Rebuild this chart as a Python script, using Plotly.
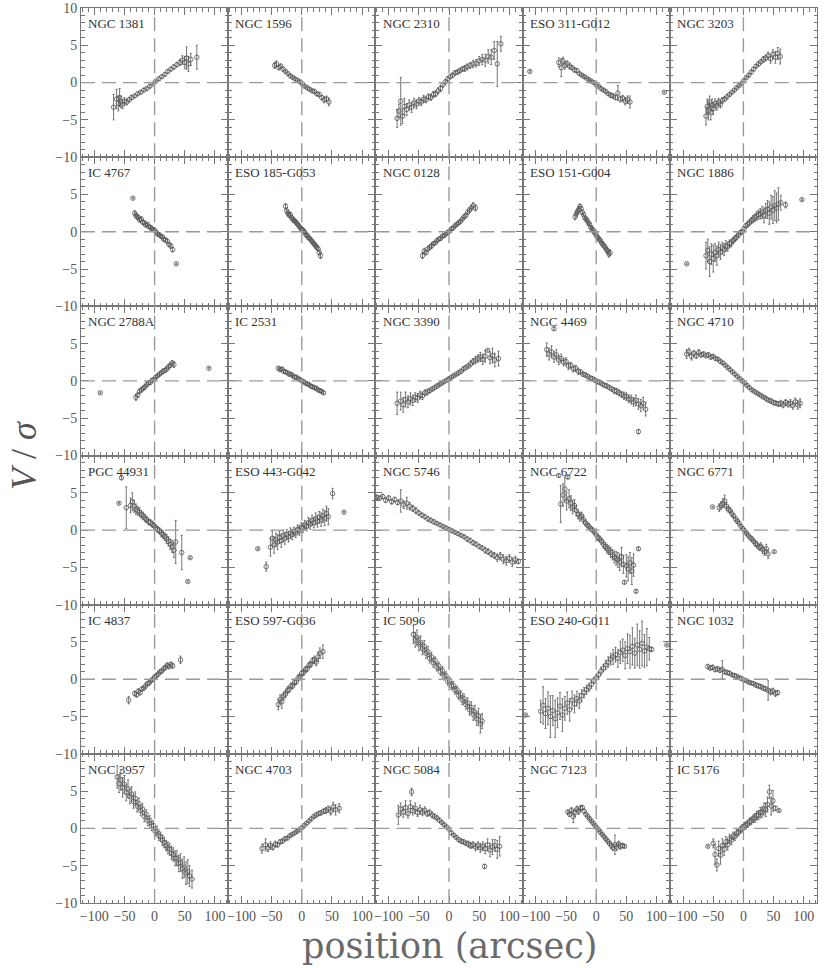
import plotly.graph_objects as go
from plotly.subplots import make_subplots

# V/sigma along the major axis for 30 galaxies
# each galaxy: position (arcsec), V/sigma, error on V/sigma

ngc1381_pos = [-68, -63, -60, -58, -56, -53, -50, -46, -42, -38,
               -33, -28, -23, -18, -13, -8, -3, 2, 7, 12,
               17, 22, 27, 32, 37, 42, 46, 50, 53, 56,
               60, 70]
ngc1381_v = [-3.3, -2.2, -2.8, -2.0, -2.6, -2.9, -2.5, -2.6, -2.3, -2.0,
             -1.8, -1.5, -1.3, -1.0, -0.8, -0.5, -0.2, 0.2, 0.5, 0.8,
             1.1, 1.5, 1.8, 2.1, 2.4, 2.7, 3.0, 2.7, 3.3, 2.5,
             3.1, 3.4]
ngc1381_err = [1.7, 1.3, 1.0, 1.2, 0.8, 0.6, 0.5, 0.4, 0.3, 0.3,
               0.2, 0.2, 0.2, 0.2, 0.2, 0.2, 0.1, 0.1, 0.2, 0.2,
               0.2, 0.2, 0.2, 0.3, 0.3, 0.4, 0.6, 0.8, 1.5, 1.0,
               0.8, 1.6]

ngc1596_pos = [-45, -42, -38, -35, -31, -27, -23, -19, -15, -11,
               -7, -3, 1, 5, 9, 13, 17, 21, 25, 29,
               33, 37, 41, 45]
ngc1596_v = [2.3, 2.5, 2.0, 2.2, 1.8, 1.5, 1.2, 0.9, 0.7, 0.5,
             0.3, 0.1, -0.2, -0.5, -0.7, -0.9, -1.1, -1.2, -1.5, -1.6,
             -2.0, -2.3, -2.2, -2.6]
ngc1596_err = [0.4, 0.4, 0.3, 0.3, 0.3, 0.2, 0.2, 0.2, 0.2, 0.2,
               0.2, 0.2, 0.2, 0.2, 0.2, 0.2, 0.2, 0.3, 0.3, 0.3,
               0.3, 0.4, 0.4, 0.5]

ngc2310_pos = [-86, -83, -80, -77, -74, -70, -66, -62, -58, -54,
               -50, -46, -42, -38, -34, -30, -26, -22, -18, -14,
               -10, -6, -2, 2, 6, 10, 14, 18, 22, 26,
               30, 35, 40, 45, 50, 55, 60, 65, 70, 75,
               80, 86]
ngc2310_v = [-4.8, -3.8, -2.5, -4.5, -3.2, -3.6, -3.0, -3.3, -2.7, -2.9,
             -2.5, -2.6, -2.2, -2.3, -1.9, -2.0, -1.6, -1.5, -1.1, -0.8,
             -0.3, 0.1, 0.5, 0.8, 1.0, 1.3, 1.4, 1.6, 1.8, 1.9,
             2.1, 2.3, 2.5, 2.6, 2.9, 3.1, 3.0, 3.5, 3.4, 4.3,
             2.5, 5.2]
ngc2310_err = [1.2, 0.9, 3.2, 1.0, 1.1, 0.8, 0.7, 0.7, 0.6, 0.6,
               0.5, 0.5, 0.5, 0.4, 0.4, 0.4, 0.4, 0.4, 0.4, 0.4,
               0.3, 0.3, 0.3, 0.3, 0.3, 0.3, 0.3, 0.3, 0.3, 0.4,
               0.4, 0.4, 0.5, 0.5, 0.6, 0.7, 0.8, 0.9, 1.0, 1.2,
               3.0, 1.0]

eso311_pos = [-110, -62, -58, -55, -52, -48, -44, -40, -36, -32,
              -28, -24, -20, -16, -12, -8, -4, 0, 4, 8,
              12, 16, 20, 24, 28, 32, 36, 40, 44, 48,
              52, 56, 113]
eso311_v = [1.5, 2.7, 2.0, 2.9, 2.3, 2.5, 2.2, 2.0, 1.7, 1.6,
            1.2, 1.0, 0.8, 0.6, 0.4, 0.2, 0.0, -0.3, -0.5, -0.8,
            -1.0, -1.2, -1.5, -1.7, -1.8, -2.0, -1.4, -2.2, -2.1, -2.5,
            -2.3, -2.6, -1.3]
eso311_err = [0.1, 0.6, 1.2, 0.5, 0.5, 0.4, 0.4, 0.3, 0.3, 0.3,
              0.2, 0.2, 0.2, 0.1, 0.1, 0.1, 0.1, 0.1, 0.1, 0.2,
              0.2, 0.2, 0.2, 0.3, 0.3, 0.3, 1.0, 0.4, 0.4, 0.5,
              0.5, 0.8, 0.1]

ngc3203_pos = [-62, -60, -58, -56, -54, -52, -50, -47, -44, -41,
               -38, -35, -31, -27, -23, -19, -15, -11, -7, -3,
               1, 5, 9, 13, 17, 21, 25, 29, 33, 37,
               41, 45, 49, 53, 57, 61]
ngc3203_v = [-4.5, -3.2, -3.8, -2.6, -4.0, -3.0, -3.5, -2.8, -3.1, -2.6,
             -2.9, -2.4, -2.2, -1.9, -1.6, -1.3, -1.0, -0.7, -0.4, -0.1,
             0.3, 0.7, 1.0, 1.4, 1.8, 2.2, 2.5, 2.8, 3.1, 3.3,
             3.6, 3.2, 3.8, 3.4, 3.9, 3.5]
ngc3203_err = [1.2, 1.0, 1.2, 0.8, 1.0, 0.8, 0.8, 0.6, 0.6, 0.5,
               0.5, 0.4, 0.3, 0.3, 0.2, 0.2, 0.2, 0.2, 0.1, 0.1,
               0.1, 0.1, 0.2, 0.2, 0.2, 0.2, 0.3, 0.3, 0.4, 0.4,
               0.5, 0.6, 0.6, 0.8, 0.8, 1.0]

ic4767_pos = [-36, -33, -31, -29, -27, -25, -22, -20, -17, -15,
              -12, -10, -7, -5, -2, 0, 3, 5, 8, 10,
              13, 15, 18, 21, 24, 27, 30, 36]
ic4767_v = [4.5, 2.5, 2.2, 2.0, 1.9, 1.6, 1.7, 1.3, 1.2, 0.9,
            1.0, 0.7, 0.6, 0.4, 0.3, 0.2, -0.1, -0.3, -0.4, -0.6,
            -0.7, -1.0, -1.1, -1.3, -1.7, -1.9, -2.4, -4.3]
ic4767_err = [0.1, 0.3, 0.3, 0.3, 0.3, 0.3, 0.3, 0.3, 0.2, 0.2,
              0.2, 0.2, 0.2, 0.2, 0.2, 0.2, 0.2, 0.2, 0.2, 0.2,
              0.2, 0.2, 0.3, 0.3, 0.3, 0.3, 0.3, 0.1]

eso185_pos = [-27, -25, -23, -21, -19, -17, -15, -13, -11, -9,
              -7, -5, -3, -1, 1, 3, 5, 7, 9, 11,
              13, 15, 17, 19, 21, 23, 25, 27, 29, 31]
eso185_v = [3.4, 2.8, 2.5, 2.2, 2.3, 1.9, 1.7, 1.5, 1.4, 1.2,
            1.0, 0.8, 0.6, 0.4, 0.3, 0.1, -0.1, -0.4, -0.5, -0.8,
            -0.9, -1.1, -1.3, -1.5, -1.7, -1.9, -2.1, -2.3, -2.8, -3.2]
eso185_err = [0.4, 0.4, 0.3, 0.3, 0.3, 0.3, 0.2, 0.2, 0.2, 0.2,
              0.2, 0.2, 0.2, 0.2, 0.2, 0.2, 0.2, 0.2, 0.2, 0.2,
              0.2, 0.2, 0.2, 0.2, 0.3, 0.3, 0.3, 0.3, 0.3, 0.4]

ngc0128_pos = [-44, -41, -38, -35, -32, -29, -26, -23, -20, -17,
               -14, -11, -8, -5, -2, 1, 4, 7, 10, 13,
               16, 19, 22, 25, 28, 31, 34, 37, 40, 44]
ngc0128_v = [-3.2, -2.6, -2.8, -2.3, -2.1, -1.9, -1.6, -1.5, -1.2, -1.0,
             -0.9, -0.6, -0.5, -0.3, -0.1, 0.1, 0.4, 0.5, 0.8, 1.0,
             1.2, 1.4, 1.7, 2.0, 2.2, 2.6, 2.9, 3.2, 3.5, 3.2]
ngc0128_err = [0.4, 0.4, 0.3, 0.3, 0.3, 0.3, 0.2, 0.2, 0.2, 0.2,
               0.2, 0.2, 0.2, 0.2, 0.2, 0.2, 0.2, 0.2, 0.2, 0.2,
               0.2, 0.2, 0.2, 0.3, 0.3, 0.3, 0.3, 0.3, 0.4, 0.4]

eso151_pos = [-35, -33, -31, -29, -27, -25, -23, -21, -19, -17,
              -15, -13, -11, -9, -7, -5, -3, -1, 1, 3,
              5, 7, 9, 11, 13, 15, 17, 19, 21, 23]
eso151_v = [2.0, 2.4, 2.7, 3.0, 3.4, 3.1, 2.6, 2.3, 1.9, 1.7,
            1.5, 1.2, 1.0, 0.6, 0.4, 0.2, -0.1, -0.3, -0.6, -0.8,
            -1.0, -1.2, -1.5, -1.7, -1.9, -2.1, -2.4, -2.6, -3.0, -2.8]
eso151_err = [0.4, 0.4, 0.4, 0.4, 0.3, 0.3, 0.3, 0.2, 0.2, 0.2,
              0.2, 0.2, 0.2, 0.2, 0.2, 0.2, 0.2, 0.2, 0.2, 0.2,
              0.2, 0.2, 0.2, 0.3, 0.3, 0.3, 0.3, 0.4, 0.4, 0.4]

ngc1886_pos = [-94, -62, -59, -56, -53, -50, -47, -44, -41, -38,
               -35, -32, -29, -26, -23, -20, -17, -14, -11, -8,
               -5, -2, 1, 4, 7, 10, 13, 16, 19, 22,
               25, 28, 31, 34, 37, 40, 43, 46, 49, 52,
               55, 58, 62, 70, 97]
ngc1886_v = [-4.3, -3.2, -2.5, -4.0, -3.0, -3.6, -2.8, -3.2, -2.4, -2.7,
             -2.2, -2.4, -1.9, -2.0, -1.6, -1.5, -1.2, -0.9, -0.7, -0.4,
             -0.1, 0.0, 0.4, 0.8, 1.0, 1.2, 1.5, 1.7, 1.9, 2.1,
             2.3, 2.4, 2.6, 2.2, 2.8, 3.0, 2.5, 3.3, 2.9, 3.5,
             3.2, 3.7, 3.9, 3.6, 4.3]
ngc1886_err = [0.1, 1.8, 1.5, 2.0, 1.4, 1.8, 1.2, 1.3, 1.0, 1.0,
               0.8, 0.8, 0.7, 0.6, 0.5, 0.5, 0.4, 0.4, 0.4, 0.3,
               0.3, 0.3, 0.3, 0.3, 0.4, 0.4, 0.4, 0.5, 0.5, 0.6,
               0.6, 0.7, 0.8, 1.0, 1.0, 1.2, 1.5, 1.6, 1.8, 2.0,
               2.0, 2.2, 1.0, 0.4, 0.1]

ngc2788a_pos = [-90, -31, -28, -25, -22, -19, -16, -13, -10, -7,
                -4, -1, 2, 5, 8, 11, 14, 17, 20, 23,
                26, 29, 32, 90]
ngc2788a_v = [-1.6, -2.2, -1.9, -1.4, -1.2, -1.0, -0.8, -0.5, -0.3, -0.2,
              0.1, 0.2, 0.5, 0.7, 0.9, 1.1, 1.3, 1.4, 1.6, 1.9,
              2.1, 2.4, 2.2, 1.7]
ngc2788a_err = [0.1, 0.4, 0.3, 0.3, 0.3, 0.3, 0.3, 0.3, 0.2, 0.2,
                0.2, 0.2, 0.2, 0.2, 0.2, 0.2, 0.3, 0.3, 0.3, 0.3,
                0.3, 0.3, 0.4, 0.1]

ic2531_pos = [-39, -36, -33, -30, -27, -24, -21, -18, -15, -12,
              -9, -6, -3, 0, 3, 6, 9, 12, 15, 18,
              21, 24, 27, 30, 33, 36]
ic2531_v = [1.7, 1.5, 1.6, 1.3, 1.2, 1.1, 0.9, 0.9, 0.7, 0.5,
            0.5, 0.3, 0.2, 0.0, -0.1, -0.3, -0.4, -0.5, -0.7, -0.8,
            -0.9, -1.0, -1.2, -1.3, -1.4, -1.6]
ic2531_err = [0.2, 0.2, 0.2, 0.2, 0.2, 0.2, 0.2, 0.2, 0.2, 0.2,
              0.2, 0.2, 0.2, 0.2, 0.2, 0.2, 0.2, 0.2, 0.2, 0.2,
              0.2, 0.2, 0.2, 0.2, 0.2, 0.2]

ngc3390_pos = [-86, -80, -76, -72, -68, -64, -60, -56, -52, -48,
               -44, -40, -36, -32, -28, -24, -20, -16, -12, -8,
               -4, 0, 4, 8, 12, 16, 20, 24, 28, 32,
               36, 40, 44, 48, 52, 56, 60, 64, 68, 72,
               76, 82]
ngc3390_v = [-3.0, -2.7, -3.2, -2.5, -2.8, -2.4, -2.6, -2.2, -2.3, -1.9,
             -2.0, -1.6, -1.5, -1.3, -1.1, -0.9, -0.7, -0.5, -0.3, -0.1,
             0.1, 0.3, 0.5, 0.7, 0.9, 1.1, 1.3, 1.6, 1.8, 2.0,
             2.3, 2.6, 2.8, 3.0, 3.2, 2.9, 3.3, 4.1, 3.1, 3.4,
             2.8, 3.0]
ngc3390_err = [1.5, 1.2, 1.0, 1.0, 0.8, 0.8, 0.7, 0.6, 0.6, 0.5,
               0.5, 0.4, 0.4, 0.3, 0.3, 0.3, 0.3, 0.2, 0.2, 0.2,
               0.2, 0.2, 0.2, 0.2, 0.2, 0.3, 0.3, 0.3, 0.3, 0.3,
               0.4, 0.4, 0.5, 0.5, 0.6, 0.7, 0.8, 0.1, 0.8, 1.0,
               0.9, 1.0]

ngc4469_pos = [-82, -78, -74, -70, -66, -62, -58, -54, -50, -46,
               -42, -38, -34, -30, -26, -22, -18, -14, -10, -6,
               -2, 2, 6, 10, 14, 18, 22, 26, 30, 34,
               38, 42, 46, 50, 54, 58, 62, 66, 70, 74,
               78, 82, -70, 70]
ngc4469_v = [4.2, 3.6, 3.9, 3.2, 3.5, 2.8, 3.0, 2.5, 2.6, 2.0,
             2.1, 1.6, 1.7, 1.3, 1.2, 0.9, 0.8, 0.6, 0.4, 0.3,
             0.1, -0.1, -0.2, -0.4, -0.6, -0.7, -0.9, -1.1, -1.3, -1.4,
             -1.6, -1.8, -2.0, -2.1, -2.4, -2.5, -2.8, -2.6, -3.1, -3.3,
             -3.0, -3.8, 7.0, -6.8]
ngc4469_err = [0.9, 0.8, 0.8, 0.7, 0.7, 0.6, 0.6, 0.5, 0.5, 0.5,
               0.4, 0.4, 0.4, 0.4, 0.3, 0.3, 0.3, 0.3, 0.3, 0.3,
               0.3, 0.3, 0.3, 0.3, 0.3, 0.3, 0.3, 0.3, 0.4, 0.4,
               0.4, 0.4, 0.5, 0.5, 0.5, 0.6, 0.6, 0.7, 0.7, 0.8,
               0.8, 0.9, 0.2, 0.3]

ngc4710_pos = [-94, -90, -86, -82, -78, -74, -70, -66, -62, -58,
               -54, -50, -46, -42, -38, -34, -30, -26, -22, -18,
               -14, -10, -6, -2, 2, 6, 10, 14, 18, 22,
               26, 30, 34, 38, 42, 46, 50, 54, 58, 62,
               66, 70, 74, 78, 82, 86, 90, 94]
ngc4710_v = [3.6, 3.9, 3.3, 3.7, 3.4, 3.8, 3.5, 3.6, 3.4, 3.5,
             3.2, 3.3, 3.0, 2.9, 2.6, 2.4, 2.1, 1.8, 1.5, 1.2,
             0.9, 0.6, 0.3, 0.0, -0.3, -0.6, -0.9, -1.2, -1.4, -1.6,
             -1.8, -2.0, -2.2, -2.4, -2.6, -2.7, -2.9, -3.0, -3.1, -3.0,
             -3.2, -2.9, -3.1, -3.0, -3.3, -2.8, -3.2, -3.0]
ngc4710_err = [0.6, 0.5, 0.5, 0.4, 0.4, 0.4, 0.3, 0.3, 0.3, 0.3,
               0.3, 0.2, 0.2, 0.2, 0.2, 0.2, 0.2, 0.2, 0.2, 0.2,
               0.2, 0.2, 0.2, 0.2, 0.2, 0.2, 0.2, 0.2, 0.2, 0.2,
               0.2, 0.2, 0.2, 0.3, 0.3, 0.3, 0.3, 0.3, 0.3, 0.4,
               0.4, 0.4, 0.4, 0.5, 0.5, 0.5, 0.6, 0.6]

pgc44931_pos = [-59, -55, -47, -40, -37, -34, -31, -28, -25, -22,
                -19, -16, -13, -10, -7, -4, -1, 2, 5, 8,
                11, 14, 17, 20, 23, 26, 29, 32, 35, 45,
                55, 59]
pgc44931_v = [3.6, 7.0, 3.0, 3.3, 3.8, 3.2, 2.8, 2.6, 2.4, 2.1,
              1.9, 1.6, 1.4, 1.1, 1.0, 0.8, 0.6, 0.3, 0.1, -0.1,
              -0.4, -0.6, -0.9, -1.2, -1.5, -1.9, -2.2, -2.7, -1.6, -3.0,
              -6.9, -3.7]
pgc44931_err = [0.1, 0.2, 2.8, 1.0, 1.2, 0.8, 0.7, 0.6, 0.6, 0.5,
                0.5, 0.5, 0.4, 0.4, 0.4, 0.4, 0.4, 0.4, 0.4, 0.4,
                0.5, 0.5, 0.5, 0.6, 0.6, 0.7, 0.8, 1.0, 2.9, 2.3,
                0.1, 0.1]

eso443_pos = [-73, -59, -52, -49, -46, -43, -40, -37, -34, -31,
              -28, -25, -22, -19, -16, -13, -10, -7, -4, -1,
              2, 5, 8, 11, 14, 17, 20, 23, 26, 29,
              32, 35, 38, 41, 44, 51, 70]
eso443_v = [-2.5, -4.9, -2.3, -1.1, -2.0, -1.3, -1.6, -1.0, -1.4, -0.8,
            -1.1, -0.6, -0.9, -0.4, -0.6, -0.2, -0.4, 0.1, -0.1, 0.4,
            0.3, 0.7, 0.5, 1.0, 0.8, 1.3, 1.0, 1.5, 1.2, 1.7,
            1.4, 1.9, 1.6, 2.2, 1.8, 4.9, 2.4]
eso443_err = [0.1, 0.6, 1.2, 1.0, 1.1, 0.9, 1.0, 0.8, 0.9, 0.8,
              0.8, 0.7, 0.7, 0.7, 0.7, 0.6, 0.6, 0.6, 0.6, 0.6,
              0.6, 0.6, 0.6, 0.7, 0.7, 0.7, 0.7, 0.8, 0.8, 0.8,
              0.9, 0.9, 1.0, 1.0, 1.1, 0.7, 0.1]

ngc5746_pos = [-120, -115, -110, -105, -100, -95, -90, -85, -80, -75,
               -70, -65, -60, -55, -50, -45, -40, -35, -30, -25,
               -20, -15, -10, -5, 0, 5, 10, 15, 20, 25,
               30, 35, 40, 45, 50, 55, 60, 65, 70, 75,
               80, 85, 90, 95, 100, 105, 110, 115]
ngc5746_v = [4.4, 4.3, 4.5, 4.0, 4.3, 3.8, 4.1, 3.7, 3.9, 3.4,
             3.6, 3.2, 2.9, 2.6, 2.3, 2.0, 1.8, 1.5, 1.3, 1.1,
             0.9, 0.7, 0.5, 0.3, 0.1, -0.1, -0.3, -0.5, -0.7, -0.9,
             -1.2, -1.4, -1.7, -1.9, -2.2, -2.4, -2.7, -2.9, -3.2, -3.4,
             -3.7, -3.5, -3.9, -4.1, -3.8, -4.3, -4.0, -4.2]
ngc5746_err = [0.3, 0.3, 0.3, 0.3, 0.3, 0.3, 0.3, 0.3, 1.5, 0.5,
               0.8, 0.5, 0.4, 0.4, 0.3, 0.3, 0.3, 0.3, 0.3, 0.3,
               0.2, 0.2, 0.2, 0.2, 0.2, 0.2, 0.2, 0.2, 0.2, 0.2,
               0.3, 0.3, 0.3, 0.3, 0.3, 0.3, 0.4, 0.4, 0.4, 0.4,
               0.5, 0.5, 0.6, 0.6, 0.5, 0.6, 0.5, 0.3]

ngc6722_pos = [-62, -59, -55, -52, -49, -47, -45, -42, -39, -36,
               -33, -30, -27, -24, -21, -18, -15, -12, -9, -6,
               -3, 0, 3, 6, 9, 12, 15, 18, 21, 24,
               27, 30, 33, 36, 39, 42, 45, 47, 50, 53,
               56, 59, 62, 66, 70]
ngc6722_v = [7.3, 3.5, 4.7, 5.5, 3.9, 7.1, 4.2, 3.6, 3.1, 3.3,
             2.6, 2.1, 1.8, 1.9, 1.4, 1.0, 0.7, 0.5, 0.2, 0.0,
             -0.3, -0.6, -1.0, -1.2, -1.5, -1.9, -2.2, -2.5, -2.7, -3.0,
             -3.3, -3.6, -3.8, -4.0, -4.3, -3.6, -4.6, -7.0, -4.8, -5.2,
             -4.4, -5.5, -4.7, -8.2, -2.5]
ngc6722_err = [0.2, 2.5, 1.5, 1.6, 1.2, 0.2, 1.2, 1.0, 0.9, 0.8,
               0.7, 0.6, 0.6, 0.5, 0.5, 0.4, 0.4, 0.4, 0.3, 0.3,
               0.3, 0.3, 0.4, 0.4, 0.4, 0.5, 0.5, 0.6, 0.6, 0.7,
               0.7, 0.8, 0.9, 1.0, 1.1, 1.3, 1.2, 0.2, 1.5, 1.6,
               1.4, 1.8, 1.5, 0.2, 0.2]

ngc6771_pos = [-51, -40, -37, -34, -31, -28, -25, -22, -19, -16,
               -13, -10, -7, -4, -1, 2, 5, 8, 11, 14,
               17, 20, 23, 26, 29, 32, 35, 38, 41, 51]
ngc6771_v = [3.1, 3.0, 3.3, 3.6, 3.9, 3.2, 2.8, 2.6, 2.2, 1.9,
             1.5, 1.2, 0.9, 0.5, 0.2, -0.1, -0.4, -0.7, -1.0, -1.2,
             -1.5, -1.8, -2.0, -2.3, -2.2, -2.6, -2.9, -2.5, -3.2, -2.9]
ngc6771_err = [0.1, 0.5, 0.5, 0.6, 0.8, 0.5, 0.4, 0.4, 0.4, 0.3,
               0.3, 0.3, 0.3, 0.3, 0.3, 0.3, 0.3, 0.3, 0.3, 0.3,
               0.3, 0.4, 0.4, 0.4, 0.5, 0.5, 0.5, 0.6, 0.6, 0.1]

ic4837_pos = [-43, -33, -30, -27, -24, -21, -18, -15, -12, -9,
              -6, -3, 0, 3, 6, 9, 12, 15, 18, 21,
              24, 27, 30, 43]
ic4837_v = [-2.8, -1.9, -2.1, -1.6, -1.8, -1.3, -1.2, -0.9, -0.6, -0.5,
            -0.2, 0.0, 0.3, 0.5, 0.7, 1.0, 1.1, 1.4, 1.6, 1.9,
            1.7, 2.0, 1.8, 2.6]
ic4837_err = [0.5, 0.3, 0.3, 0.3, 0.3, 0.3, 0.3, 0.3, 0.3, 0.3,
              0.3, 0.3, 0.3, 0.3, 0.3, 0.3, 0.3, 0.3, 0.3, 0.3,
              0.3, 0.3, 0.3, 0.5]

eso597_pos = [-39, -36, -33, -30, -27, -24, -21, -18, -15, -12,
              -9, -6, -3, 0, 3, 6, 9, 12, 15, 18,
              21, 24, 27, 30, 35]
eso597_v = [-3.4, -2.7, -3.0, -2.2, -2.0, -1.5, -1.4, -0.9, -0.9, -0.4,
            -0.3, 0.2, 0.3, 0.8, 0.9, 1.3, 1.4, 1.9, 2.0, 2.5,
            2.6, 2.3, 3.0, 3.5, 3.7]
eso597_err = [0.7, 0.6, 0.9, 0.5, 0.5, 0.5, 0.4, 0.4, 0.4, 0.4,
              0.4, 0.4, 0.4, 0.4, 0.4, 0.4, 0.4, 0.4, 0.4, 0.4,
              0.5, 0.5, 0.6, 0.7, 0.9]

ic5096_pos = [-59, -56, -53, -50, -47, -44, -41, -38, -35, -32,
              -29, -26, -23, -20, -17, -14, -11, -8, -5, -2,
              1, 4, 7, 10, 13, 16, 19, 22, 25, 28,
              31, 34, 37, 40, 43, 46, 49, 52, 55]
ic5096_v = [6.0, 5.3, 5.6, 4.7, 4.9, 4.1, 4.4, 3.5, 3.7, 2.8,
            3.0, 2.2, 2.5, 1.6, 1.8, 1.0, 1.2, 0.4, 0.5, -0.3,
            -0.2, -0.9, -0.8, -1.5, -1.4, -2.2, -2.0, -2.8, -2.6, -3.4,
            -3.2, -4.1, -3.8, -4.7, -4.4, -5.3, -4.9, -6.0, -5.6]
ic5096_err = [1.2, 1.0, 1.0, 0.9, 0.9, 0.8, 0.8, 0.7, 0.7, 0.6,
              0.6, 0.6, 0.5, 0.5, 0.5, 0.5, 0.5, 0.5, 0.5, 0.5,
              0.5, 0.5, 0.5, 0.5, 0.5, 0.5, 0.5, 0.6, 0.6, 0.6,
              0.7, 0.7, 0.8, 0.8, 0.9, 0.9, 1.0, 1.2, 1.0]

eso240_pos = [-117, -92, -88, -84, -80, -76, -72, -68, -64, -60,
              -56, -52, -48, -44, -40, -36, -32, -28, -24, -20,
              -16, -12, -8, -4, 0, 4, 8, 12, 16, 20,
              24, 28, 32, 36, 40, 44, 48, 52, 56, 60,
              64, 68, 72, 76, 80, 84, 88, 92, 117]
eso240_v = [-4.8, -4.3, -3.5, -4.6, -3.9, -5.0, -4.2, -5.3, -4.5, -3.6,
            -4.8, -3.9, -3.2, -4.1, -2.8, -3.3, -2.6, -2.9, -2.2, -1.8,
            -1.4, -1.1, -0.7, -0.2, 0.2, 0.6, 1.1, 1.5, 1.9, 2.3,
            2.7, 3.0, 3.3, 2.8, 3.6, 3.9, 3.2, 4.1, 3.7, 4.4,
            3.5, 4.6, 4.0, 4.8, 3.8, 4.3, 4.1, 4.0, 4.6]
eso240_err = [0.1, 1.5, 2.5, 2.0, 2.2, 2.8, 2.0, 2.5, 2.0, 1.8,
              2.2, 1.6, 1.5, 1.5, 1.2, 1.2, 1.0, 1.0, 0.8, 0.7,
              0.6, 0.5, 0.5, 0.4, 0.4, 0.4, 0.5, 0.5, 0.6, 0.7,
              0.8, 1.0, 1.0, 1.2, 1.5, 1.5, 1.8, 2.0, 2.2, 2.5,
              2.0, 2.8, 2.5, 3.0, 2.2, 2.5, 1.5, 0.3, 0.1]

ngc1032_pos = [-59, -55, -51, -47, -43, -39, -35, -31, -27, -23,
               -19, -15, -11, -7, -3, 1, 5, 9, 13, 17,
               21, 25, 29, 33, 37, 41, 45, 49, 53, 57]
ngc1032_v = [1.7, 1.5, 1.6, 1.3, 1.4, 1.2, 1.3, 1.0, 0.9, 0.8,
             0.6, 0.5, 0.4, 0.2, 0.1, -0.1, -0.2, -0.4, -0.5, -0.6,
             -0.8, -0.9, -1.0, -1.2, -1.3, -1.5, -1.7, -1.6, -1.9, -1.8]
ngc1032_err = [0.3, 0.3, 0.3, 0.3, 0.3, 0.3, 1.2, 0.3, 0.3, 0.3,
               0.2, 0.2, 0.2, 0.2, 0.2, 0.2, 0.2, 0.2, 0.2, 0.2,
               0.3, 0.3, 0.3, 0.3, 0.3, 1.3, 0.4, 0.4, 0.4, 0.3]

ngc3957_pos = [-62, -59, -56, -53, -50, -47, -44, -41, -38, -35,
               -32, -29, -26, -23, -20, -17, -14, -11, -8, -5,
               -2, 1, 4, 7, 10, 13, 16, 19, 22, 25,
               28, 31, 34, 37, 40, 43, 46, 49, 52, 55,
               58, 62]
ngc3957_v = [6.9, 6.0, 6.5, 5.5, 5.9, 4.8, 5.3, 4.3, 4.6, 3.6,
             4.0, 3.0, 3.3, 2.4, 2.6, 1.6, 1.9, 1.0, 1.1, 0.3,
             0.4, -0.4, -0.3, -1.0, -1.1, -1.6, -1.9, -2.3, -2.6, -2.8,
             -3.3, -3.5, -4.0, -4.0, -4.7, -4.6, -5.4, -5.2, -6.0, -5.8,
             -6.4, -6.8]
ngc3957_err = [1.5, 1.2, 1.4, 1.3, 1.2, 1.1, 1.2, 1.0, 1.0, 0.9,
               0.9, 0.8, 0.8, 0.7, 0.7, 0.7, 0.6, 0.6, 0.6, 0.6,
               0.6, 0.6, 0.6, 0.6, 0.6, 0.7, 0.7, 0.7, 0.8, 0.8,
               0.9, 0.9, 1.0, 1.0, 1.1, 1.2, 1.3, 1.4, 1.5, 1.6,
               1.4, 1.2]

ngc4703_pos = [-66, -60, -56, -52, -48, -44, -40, -36, -32, -28,
               -24, -20, -16, -12, -8, -4, 0, 4, 8, 12,
               16, 20, 24, 28, 32, 36, 40, 44, 48, 52,
               56, 62]
ngc4703_v = [-2.7, -2.2, -2.6, -2.3, -2.5, -2.1, -2.2, -1.8, -1.7, -1.4,
             -1.3, -1.0, -0.8, -0.6, -0.4, -0.2, 0.1, 0.4, 0.7, 1.0,
             1.3, 1.6, 1.8, 2.0, 2.1, 2.3, 2.4, 2.6, 2.3, 2.9,
             2.5, 2.7]
ngc4703_err = [0.6, 0.8, 0.5, 0.5, 0.4, 0.4, 0.3, 0.3, 0.3, 0.3,
               0.2, 0.2, 0.2, 0.2, 0.2, 0.2, 0.2, 0.2, 0.2, 0.2,
               0.2, 0.2, 0.3, 0.3, 0.3, 0.3, 0.4, 0.4, 0.5, 0.6,
               0.7, 0.6]

ngc5084_pos = [-84, -80, -76, -72, -68, -64, -62, -60, -56, -52,
               -48, -44, -40, -36, -32, -28, -24, -20, -16, -12,
               -8, -4, 0, 4, 8, 12, 16, 20, 24, 28,
               32, 36, 40, 44, 48, 52, 56, 59, 60, 64,
               68, 72, 76, 80, 84]
ngc5084_v = [1.8, 2.6, 2.2, 2.8, 2.0, 2.9, 4.9, 2.4, 2.7, 2.1,
             2.5, 2.2, 2.4, 2.0, 2.1, 1.8, 1.6, 1.4, 1.1, 0.8,
             0.5, 0.2, -0.1, -0.6, -0.9, -1.2, -1.5, -1.7, -1.8, -2.0,
             -2.1, -2.3, -2.2, -2.5, -2.3, -2.6, -2.4, -5.1, -2.7, -2.2,
             -2.9, -2.5, -2.3, -2.8, -2.4]
ngc5084_err = [1.3, 0.8, 0.7, 0.9, 0.6, 0.8, 0.5, 0.6, 0.7, 0.5,
               0.6, 0.5, 0.5, 0.4, 0.4, 0.4, 0.3, 0.3, 0.3, 0.2,
               0.2, 0.2, 0.2, 0.2, 0.2, 0.2, 0.3, 0.3, 0.3, 0.3,
               0.4, 0.4, 0.4, 0.5, 0.5, 0.6, 0.6, 0.3, 0.7, 0.8,
               0.9, 1.0, 0.8, 1.2, 1.3]

ngc7123_pos = [-47, -44, -41, -38, -35, -32, -29, -26, -23, -20,
               -17, -14, -11, -8, -5, -2, 1, 4, 7, 10,
               13, 16, 19, 22, 25, 28, 31, 34, 37, 40,
               44, 47]
ngc7123_v = [2.2, 1.9, 2.4, 1.6, 2.1, 2.6, 2.3, 2.7, 2.8, 2.3,
             1.9, 1.6, 1.3, 1.0, 0.7, 0.4, 0.1, -0.2, -0.5, -0.8,
             -1.1, -1.4, -1.7, -2.0, -2.3, -2.6, -2.2, -2.5, -2.1, -2.4,
             -2.3, -2.4]
ngc7123_err = [0.2, 0.3, 0.4, 0.8, 0.5, 0.4, 0.4, 0.4, 0.3, 0.3,
               0.3, 0.3, 0.3, 0.2, 0.2, 0.2, 0.2, 0.2, 0.2, 0.2,
               0.3, 0.3, 0.3, 0.3, 0.4, 0.4, 1.3, 0.5, 0.4, 0.4,
               0.3, 0.2]

ic5176_pos = [-59, -50, -47, -44, -41, -38, -35, -32, -29, -26,
              -23, -20, -17, -14, -11, -8, -5, -2, 1, 4,
              7, 10, 13, 16, 19, 22, 25, 28, 31, 34,
              37, 40, 43, 46, 49, 53, 59]
ic5176_v = [-2.4, -2.0, -3.5, -4.9, -2.7, -3.6, -2.3, -2.8, -1.8, -2.2,
            -1.4, -1.6, -1.0, -1.1, -0.6, -0.5, -0.2, 0.0, 0.3, 0.4,
            0.6, 0.9, 1.0, 1.3, 1.4, 1.7, 1.8, 2.1, 2.2, 2.6,
            2.5, 3.2, 4.9, 3.0, 3.7, 2.7, 2.4]
ic5176_err = [0.1, 0.6, 1.3, 0.8, 1.0, 1.2, 0.9, 0.8, 0.7, 0.7,
              0.6, 0.6, 0.5, 0.5, 0.5, 0.5, 0.5, 0.5, 0.5, 0.5,
              0.5, 0.5, 0.5, 0.5, 0.6, 0.6, 0.6, 0.7, 0.7, 0.8,
              0.9, 1.0, 0.9, 1.2, 1.4, 0.3, 0.1]

panels = [
    ("NGC 1381", ngc1381_pos, ngc1381_v, ngc1381_err),
    ("NGC 1596", ngc1596_pos, ngc1596_v, ngc1596_err),
    ("NGC 2310", ngc2310_pos, ngc2310_v, ngc2310_err),
    ("ESO 311-G012", eso311_pos, eso311_v, eso311_err),
    ("NGC 3203", ngc3203_pos, ngc3203_v, ngc3203_err),
    ("IC 4767", ic4767_pos, ic4767_v, ic4767_err),
    ("ESO 185-G053", eso185_pos, eso185_v, eso185_err),
    ("NGC 0128", ngc0128_pos, ngc0128_v, ngc0128_err),
    ("ESO 151-G004", eso151_pos, eso151_v, eso151_err),
    ("NGC 1886", ngc1886_pos, ngc1886_v, ngc1886_err),
    ("NGC 2788A", ngc2788a_pos, ngc2788a_v, ngc2788a_err),
    ("IC 2531", ic2531_pos, ic2531_v, ic2531_err),
    ("NGC 3390", ngc3390_pos, ngc3390_v, ngc3390_err),
    ("NGC 4469", ngc4469_pos, ngc4469_v, ngc4469_err),
    ("NGC 4710", ngc4710_pos, ngc4710_v, ngc4710_err),
    ("PGC 44931", pgc44931_pos, pgc44931_v, pgc44931_err),
    ("ESO 443-G042", eso443_pos, eso443_v, eso443_err),
    ("NGC 5746", ngc5746_pos, ngc5746_v, ngc5746_err),
    ("NGC 6722", ngc6722_pos, ngc6722_v, ngc6722_err),
    ("NGC 6771", ngc6771_pos, ngc6771_v, ngc6771_err),
    ("IC 4837", ic4837_pos, ic4837_v, ic4837_err),
    ("ESO 597-G036", eso597_pos, eso597_v, eso597_err),
    ("IC 5096", ic5096_pos, ic5096_v, ic5096_err),
    ("ESO 240-G011", eso240_pos, eso240_v, eso240_err),
    ("NGC 1032", ngc1032_pos, ngc1032_v, ngc1032_err),
    ("NGC 3957", ngc3957_pos, ngc3957_v, ngc3957_err),
    ("NGC 4703", ngc4703_pos, ngc4703_v, ngc4703_err),
    ("NGC 5084", ngc5084_pos, ngc5084_v, ngc5084_err),
    ("NGC 7123", ngc7123_pos, ngc7123_v, ngc7123_err),
    ("IC 5176", ic5176_pos, ic5176_v, ic5176_err),
]

# quick sanity check on hand-typed lists
for name, pos, v, err in panels:
    if not (len(pos) == len(v) == len(err)):
        raise ValueError(f"{name}: {len(pos)} {len(v)} {len(err)}")

n_rows, n_cols = 6, 5
frame = "#777777"
ink = "#555555"
serif = "Liberation Serif, serif"

fig = make_subplots(rows=n_rows, cols=n_cols,
                    horizontal_spacing=0, vertical_spacing=0)

for i, (name, pos, v, err) in enumerate(panels):
    row, col = i // n_cols + 1, i % n_cols + 1
    fig.add_trace(go.Scatter(
        x=pos, y=v, mode="markers",
        marker=dict(symbol="circle-open", size=4.5, color=ink,
                    line=dict(width=0.8, color=ink)),
        error_y=dict(type="data", array=err, color="#666666",
                     thickness=0.9, width=1),
        showlegend=False, hoverinfo="skip",
    ), row=row, col=col)
    fig.add_annotation(text=name, xref="x domain", yref="y domain",
                       x=0.035, y=0.895, xanchor="left", yanchor="middle",
                       showarrow=False,
                       font=dict(family=serif, size=13, color="#333333"),
                       row=row, col=col)

# dashed lines through the origin of every panel
dash_line = dict(color="#9a9a9a", width=1.4, dash="14px,7px")
fig.add_hline(y=0, line=dash_line, row="all", col="all")
fig.add_vline(x=0, line=dash_line, row="all", col="all")

fig.update_xaxes(
    range=[-122, 122], tickmode="linear", tick0=0, dtick=50,
    ticks="inside", ticklen=7, tickwidth=1, tickcolor=frame,
    minor=dict(tickmode="linear", tick0=0, dtick=10, ticks="inside",
               ticklen=3.5, tickcolor=frame),
    showline=True, linecolor=frame, linewidth=1, mirror="allticks",
    showgrid=False, zeroline=False, showticklabels=False,
    automargin=False,
    tickfont=dict(family=serif, size=14, color="#555555"),
)
fig.update_xaxes(showticklabels=True, row=n_rows)

y_ticks = [-10, -5, 0, 5, 10]
fig.update_yaxes(
    range=[-10, 10], tickmode="array", tickvals=y_ticks,
    ticktext=["\u221210", "\u22125", "0", "5", ""],
    ticks="inside", ticklen=7, tickwidth=1, tickcolor=frame,
    minor=dict(tickmode="linear", tick0=0, dtick=1, ticks="inside",
               ticklen=3.5, tickcolor=frame),
    showline=True, linecolor=frame, linewidth=1, mirror="allticks",
    showgrid=False, zeroline=False, showticklabels=False,
    automargin=False,
    tickfont=dict(family=serif, size=14, color="#555555"),
)
fig.update_yaxes(showticklabels=True, col=1)
fig.update_yaxes(ticktext=["\u221210", "\u22125", "0", "5", "10"], row=1, col=1)

# shared axis titles
fig.add_annotation(text="position (arcsec)", xref="paper", yref="paper",
                   x=0.5, y=-0.048, xanchor="center", yanchor="middle",
                   showarrow=False,
                   font=dict(family="DejaVu Serif, serif", size=35, color="#6a6a6a"))
fig.add_annotation(text="<i>V</i> / <i>\u03c3</i>", xref="paper", yref="paper",
                   x=-0.078, y=0.5, xanchor="center", yanchor="middle",
                   textangle=-90, showarrow=False,
                   font=dict(family=serif, size=36, color="#555555"))

fig.update_layout(
    width=830, height=968,
    margin=dict(l=81, r=13, t=8, b=65, autoexpand=False),
    plot_bgcolor="white", paper_bgcolor="white",
)

# page body has a default 8px margin; drop it so the figure fills the window
fig.write_html("out.html", config={"displayModeBar": False},
               post_script="document.body.style.margin = '0';")
